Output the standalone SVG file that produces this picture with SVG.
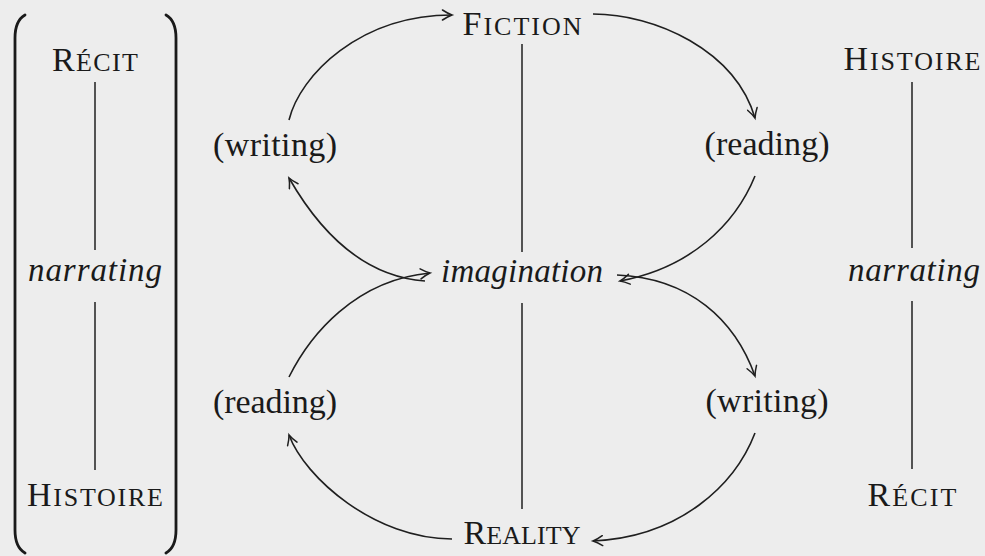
<svg xmlns="http://www.w3.org/2000/svg" width="985" height="556" viewBox="0 0 985 556">
<style>
.t{font-family:"Liberation Serif","Times New Roman",serif;font-size:34px;fill:#1a1a1a;text-anchor:middle}
.sc{font-size:26px}
.it{font-style:italic;font-size:33px}
.ln{stroke:#1f1f1f;stroke-width:1.5;fill:none}
.cv{stroke:#1f1f1f;stroke-width:1.6;fill:none;marker-end:url(#ah)}
.br{stroke:#1a1a1a;stroke-width:2.8;fill:none;stroke-linecap:round}
</style>
<defs>
<marker id="ah" markerUnits="userSpaceOnUse" markerWidth="14" markerHeight="12" refX="11" refY="6" orient="auto" viewBox="0 0 14 12">
<path d="M1.5,1 Q7,4.6 11,6 Q7,7.4 1.5,11" fill="none" stroke="#1f1f1f" stroke-width="1.5" stroke-linecap="round"/>
</marker>
</defs>
<rect width="985" height="556" fill="#ededed"/>

<g id="left-bracket">
<path class="br" d="M25,15 C18,19 15,26 15,38 L15,530 C15,542 18,549 25,553"/>
<path class="br" d="M166,15 C173,19 176,26 176,38 L176,530 C176,542 173,549 166,553"/>
</g>

<g id="left-recit"><text class="t" x="95" y="71" textLength="86" lengthAdjust="spacing">R<tspan class="sc">ÉCIT</tspan></text></g>
<g id="left-narrating"><text class="t it" x="95" y="281" textLength="134" lengthAdjust="spacing">narrating</text></g>
<g id="left-histoire"><text class="t" x="95" y="506" textLength="136" lengthAdjust="spacing">H<tspan class="sc">ISTOIRE</tspan></text></g>

<g id="fiction"><text class="t" x="522" y="35" textLength="119" lengthAdjust="spacing">F<tspan class="sc">ICTION</tspan></text></g>
<g id="imagination"><text class="t it" x="522" y="282" textLength="162" lengthAdjust="spacing">imagination</text></g>
<g id="reality"><text class="t" x="522" y="544" textLength="117" lengthAdjust="spacing">R<tspan class="sc">EALITY</tspan></text></g>

<g id="writing-upper"><text class="t" x="275" y="156" textLength="124" lengthAdjust="spacing">(writing)</text></g>
<g id="reading-lower"><text class="t" x="275" y="413" textLength="124" lengthAdjust="spacing">(reading)</text></g>
<g id="reading-upper"><text class="t" x="767" y="155" textLength="125" lengthAdjust="spacing">(reading)</text></g>
<g id="writing-lower"><text class="t" x="767" y="412" textLength="123" lengthAdjust="spacing">(writing)</text></g>

<g id="right-histoire"><text class="t" x="912" y="70" textLength="137" lengthAdjust="spacing">H<tspan class="sc">ISTOIRE</tspan></text></g>
<g id="right-narrating"><text class="t it" x="914" y="281" textLength="132" lengthAdjust="spacing">narrating</text></g>
<g id="right-recit"><text class="t" x="912" y="506" textLength="89" lengthAdjust="spacing">R<tspan class="sc">ÉCIT</tspan></text></g>

<g id="connectors">
<line class="ln" x1="95" y1="82" x2="95" y2="250"/>
<line class="ln" x1="95" y1="302" x2="95" y2="470"/>
<line class="ln" x1="522" y1="44" x2="522" y2="252"/>
<line class="ln" x1="522" y1="303" x2="522" y2="509"/>
<line class="ln" x1="912" y1="82" x2="912" y2="248"/>
<line class="ln" x1="912" y1="301" x2="912" y2="469"/>

<path class="cv" d="M289,120 C300,75 360,15 452,15"/>
<path class="cv" d="M593,14 C655,14 735,50 755,118"/>
<path class="cv" d="M755,176 C735,225 690,268 620,281"/>
<path class="cv" d="M617,275 C690,278 735,320 755,376"/>
<path class="cv" d="M755,433 C735,485 680,537 593,541"/>
<path class="cv" d="M452,539 C375,539 305,478 289,435"/>
<path class="cv" d="M289,377 C310,335 355,280 430,273"/>
<path class="cv" d="M425,281 C355,276 312,218 289,178"/>
</g>
</svg>
